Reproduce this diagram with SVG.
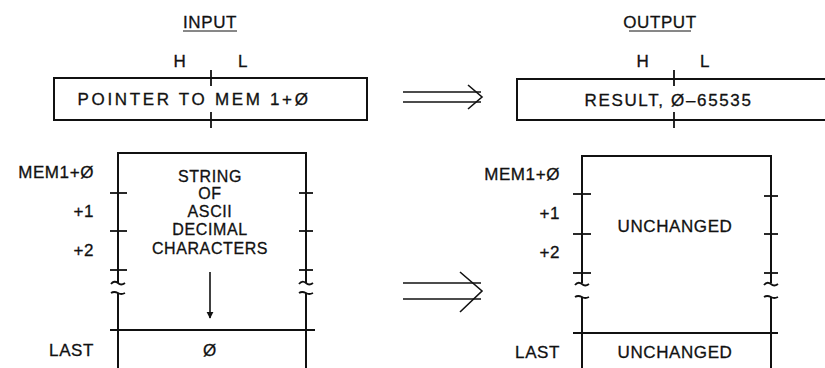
<svg xmlns="http://www.w3.org/2000/svg" width="825" height="368" viewBox="0 0 825 368">
<defs>
<style>
text{font-family:"Liberation Sans",Arial,sans-serif;font-size:17px;fill:#111;stroke:#111;stroke-width:0.3;letter-spacing:0.6px}
.c{text-anchor:middle}
.r{text-anchor:end}
.s{font-size:16px}
.ln{stroke:#111;stroke-width:2;fill:none}
.tk{stroke:#111;stroke-width:1.8;fill:none}
.ar{stroke:#111;stroke-width:1.6;fill:none}
</style>
<marker id="ah" viewBox="0 0 10 10" refX="9" refY="5" markerWidth="7" markerHeight="9" orient="auto" markerUnits="userSpaceOnUse">
<path d="M0,0 L10,5 L0,10 z" fill="#111"/>
</marker>
</defs>
<rect width="825" height="368" fill="#fff"/>

<g id="titles">
<text class="c" x="210" y="28">INPUT</text>
<line x1="183" y1="31" x2="237" y2="31" stroke="#111" stroke-width="1"/>
<text class="c" x="660" y="28">OUTPUT</text>
<line x1="629" y1="31" x2="691" y2="31" stroke="#111" stroke-width="1"/>
</g>

<g id="input-register">
<text class="c" x="180" y="67">H</text>
<text class="c" x="243" y="67">L</text>
<rect class="ln" x="54" y="78" width="313" height="42"/>
<line class="tk" x1="211" y1="70" x2="211" y2="86"/>
<line class="tk" x1="211" y1="112" x2="211" y2="128"/>
<text class="c" x="193" y="105" textLength="231" lengthAdjust="spacing">POINTER TO MEM 1+Ø</text>
</g>

<g id="output-register">
<text class="c" x="643" y="67">H</text>
<text class="c" x="705" y="67">L</text>
<path class="ln" d="M830,79 H517 V120 H830"/>
<line class="tk" x1="674" y1="70" x2="674" y2="86"/>
<line class="tk" x1="674" y1="112" x2="674" y2="128"/>
<text class="c" x="668" y="106" textLength="167" lengthAdjust="spacing">RESULT, Ø–65535</text>
</g>

<g id="input-memory">
<text class="r" x="94" y="178">MEM1+Ø</text>
<text class="r" x="94" y="217">+1</text>
<text class="r" x="94" y="256">+2</text>
<text class="r" x="94" y="356">LAST</text>
<path class="ln" d="M118,283 V153 H306 V283"/>
<path class="ln" d="M118,293 V368"/>
<path class="ln" d="M306,293 V368"/>
<line class="ln" x1="110" y1="330" x2="315" y2="330"/>
<g class="tk">
<line x1="110" y1="193" x2="127" y2="193"/>
<line x1="110" y1="231" x2="127" y2="231"/>
<line x1="110" y1="270" x2="127" y2="270"/>
<line x1="299" y1="193" x2="313" y2="193"/>
<line x1="299" y1="231" x2="313" y2="231"/>
<line x1="299" y1="270" x2="313" y2="270"/>
<path d="M111,284 q3,-4 7,-1 q3,3 7,0"/>
<path d="M111,293 q3,-2 7,0 q3,2 7,0"/>
<path d="M299,284 q3,-4 7,-1 q3,3 7,0"/>
<path d="M299,293 q3,-2 7,0 q3,2 7,0"/>
</g>
<text class="c s" x="210" y="182">STRING</text>
<text class="c s" x="210" y="199">OF</text>
<text class="c s" x="210" y="217">ASCII</text>
<text class="c s" x="210" y="235">DECIMAL</text>
<text class="c s" x="210" y="254">CHARACTERS</text>
<line class="ar" x1="210" y1="272" x2="210" y2="318" marker-end="url(#ah)"/>
<text class="c" x="210" y="356">Ø</text>
</g>

<g id="output-memory">
<text class="r" x="560" y="180">MEM1+Ø</text>
<text class="r" x="560" y="219">+1</text>
<text class="r" x="560" y="258">+2</text>
<text class="r" x="560" y="358">LAST</text>
<path class="ln" d="M582,283 V156 H771 V283"/>
<path class="ln" d="M582,297 V368"/>
<path class="ln" d="M771,297 V368"/>
<line class="ln" x1="573" y1="333" x2="778" y2="333"/>
<g class="tk">
<line x1="573" y1="194" x2="591" y2="194"/>
<line x1="573" y1="234" x2="591" y2="234"/>
<line x1="573" y1="273" x2="591" y2="273"/>
<line x1="764" y1="196" x2="778" y2="196"/>
<line x1="764" y1="234" x2="778" y2="234"/>
<line x1="764" y1="273" x2="778" y2="273"/>
<path d="M575,285 q3,-4 7,-1 q3,3 7,0"/>
<path d="M575,297 q3,-2 7,0 q3,2 7,0"/>
<path d="M764,285 q3,-4 7,-1 q3,3 7,0"/>
<path d="M764,297 q3,-2 7,0 q3,2 7,0"/>
</g>
<text class="c" x="675" y="232">UNCHANGED</text>
<text class="c" x="675" y="358">UNCHANGED</text>
</g>

<g id="connectors">
<line class="ar" x1="403" y1="92" x2="481" y2="92"/>
<line class="ar" x1="403" y1="102" x2="481" y2="102"/>
<path class="ar" d="M468,85 L482,97 L468,109"/>
<line class="ar" x1="403" y1="283" x2="481" y2="283"/>
<line class="ar" x1="403" y1="299" x2="481" y2="299"/>
<path class="ar" d="M460,272 L482,291 L460,312"/>
</g>
</svg>
